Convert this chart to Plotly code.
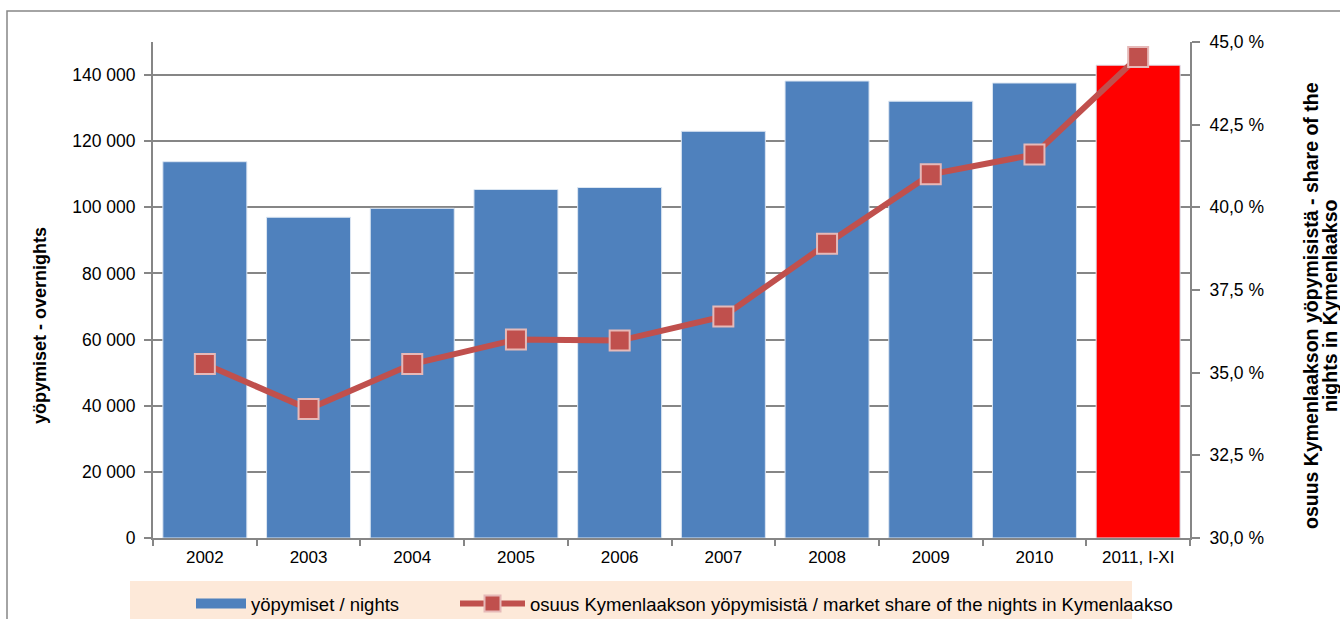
import plotly.graph_objects as go

categories = ["2002", "2003", "2004", "2005", "2006", "2007", "2008", "2009", "2010", "2011, I-XI"]
nights = [113800, 97000, 99700, 105400, 106000, 123000, 138200, 132100, 137600, 143000]
share = [35.26, 33.9, 35.26, 36.0, 35.97, 36.7, 38.9, 41.0, 41.6, 44.55]
bar_colors = ["#4F81BD"] * 9 + ["#FF0000"]

left_ticks = [0, 20000, 40000, 60000, 80000, 100000, 120000, 140000]
right_ticks = [30, 32.5, 35, 37.5, 40, 42.5, 45]
right_labels = ["30,0 %", "32,5 %", "35,0 %", "37,5 %", "40,0 %", "42,5 %", "45,0 %"]

bar_name = "yöpymiset / nights"
line_name = "osuus Kymenlaakson yöpymisistä / market share of the nights in Kymenlaakso"
left_title = "yöpymiset - overnights"
right_title_1 = "osuus Kymenlaakson yöpymisistä - share of the"
right_title_2 = "nights in Kymenlaakso"

FONT = "Liberation Sans, Arial, sans-serif"
GRID = "#868686"
BLUE = "#4F81BD"
LINE = "#C0504D"

# plot area in pixels: x 153..1190, y 42..538
PL, PR, PT, PB = 153, 1190, 42, 538
def px(x):
    return (x - PL) / (PR - PL)
def py(y):
    return (PB - y) / (PB - PT)

fig = go.Figure()
fig.add_trace(go.Bar(
    x=categories, y=nights, name=bar_name, showlegend=False,
    marker=dict(color=bar_colors, line=dict(color="#DCE6F2", width=1)),
    width=0.81,
))
# legend proxy for the bar series (wide rectangle symbol)
fig.add_trace(go.Scatter(
    x=[None], y=[None], name=bar_name, mode="lines",
    line=dict(color=BLUE, width=11), legend="legend",
))
fig.add_trace(go.Scatter(
    x=categories, y=share, name=line_name,
    yaxis="y2", mode="lines+markers", legend="legend2",
    line=dict(color=LINE, width=6),
    marker=dict(symbol="square", size=20, color=LINE, line=dict(color="#E6B9B8", width=2)),
))

fig.update_layout(
    width=1340, height=619,
    margin=dict(l=PL, r=1340 - PR, t=PT, b=619 - PB, autoexpand=False),
    paper_bgcolor="white", plot_bgcolor="white",
    separators=", ",
    font=dict(family=FONT, size=17, color="black"),
    showlegend=True,
    xaxis=dict(
        automargin=False, range=[-0.5, 9.5],
        showline=True, linecolor=GRID, linewidth=2,
        ticks="outside", tickson="boundaries", tickcolor=GRID, ticklen=6, tickwidth=1.5,
        showgrid=False, tickfont=dict(size=17), ticklabelstandoff=3,
    ),
    yaxis=dict(
        automargin=False,
        range=[0, 150000], tickvals=left_ticks, tickformat=",d",
        showline=True, linecolor=GRID, linewidth=2,
        ticks="outside", tickcolor=GRID, ticklen=7, tickwidth=1.5,
        showgrid=True, gridcolor=GRID, gridwidth=1.5, zeroline=False,
        tickfont=dict(size=17.5), ticklabelstandoff=5,
    ),
    yaxis2=dict(
        automargin=False,
        overlaying="y", side="right", range=[30, 45],
        tickvals=right_ticks, ticktext=right_labels,
        showline=True, linecolor=GRID, linewidth=2,
        ticks="outside", tickcolor=GRID, ticklen=8, tickwidth=1.5,
        showgrid=False, zeroline=False,
        tickfont=dict(size=17.5), ticklabelstandoff=6,
    ),
    legend=dict(
        orientation="h", x=px(191), y=py(604), xanchor="left", yanchor="middle",
        bgcolor="rgba(0,0,0,0)", font=dict(size=18.5), itemwidth=50,
    ),
    legend2=dict(
        orientation="h", x=px(455), y=py(604), xanchor="left", yanchor="middle",
        bgcolor="rgba(0,0,0,0)", font=dict(size=18.5), itemwidth=65,
    ),
    annotations=[
        dict(text="<b>" + left_title + "</b>", xref="paper", yref="paper", x=px(40), y=py(326),
             textangle=-90, showarrow=False, font=dict(size=18), xanchor="center", yanchor="middle"),
        dict(text="<b>" + right_title_1 + "</b>", xref="paper", yref="paper", x=px(1311), y=py(306),
             textangle=-90, showarrow=False, font=dict(size=19.5), xanchor="center", yanchor="middle"),
        dict(text="<b>" + right_title_2 + "</b>", xref="paper", yref="paper", x=px(1330), y=py(306),
             textangle=-90, showarrow=False, font=dict(size=19.5), xanchor="center", yanchor="middle"),
    ],
    shapes=[
        dict(type="rect", xref="paper", yref="paper", x0=px(130), x1=px(1132), y0=py(619), y1=py(581),
             fillcolor="#FDE9D9", line=dict(width=0), layer="below"),
        dict(type="rect", xref="paper", yref="paper", x0=px(7), x1=px(1360), y0=py(700), y1=py(11),
             fillcolor="rgba(0,0,0,0)", line=dict(color=GRID, width=1.5), layer="below"),
    ],
)

fig.write_html("out.html", config={"displayModeBar": False},
               post_script="document.body.style.margin='0';")
